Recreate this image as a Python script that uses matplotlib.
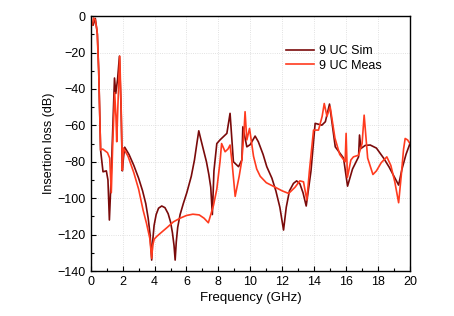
import matplotlib.pyplot as plt
from matplotlib.ticker import MultipleLocator

plt.rcParams["font.family"] = ["Liberation Sans", "DejaVu Sans"]

# 9 UC simulation, (GHz, dB)
sim_freq = [0, 0.15, 0.29, 0.42, 0.5, 0.62, 0.77, 0.98, 1.08, 1.17, 1.25, 1.35,
            1.49, 1.57, 1.68, 1.8, 1.9, 1.98, 2.05, 2.13, 2.4, 2.7, 3.0, 3.25,
            3.45, 3.6, 3.72, 3.82, 3.88, 3.97, 4.1, 4.25, 4.45, 4.65, 4.85, 5.0,
            5.12, 5.22, 5.29, 5.36, 5.45, 5.6, 5.8, 6.02, 6.3, 6.5, 6.65, 6.77,
            6.88, 7.05, 7.25, 7.4, 7.52, 7.62, 7.72, 7.9, 8.1, 8.53, 8.73, 8.94,
            9.26, 9.47, 9.53, 9.78, 9.99, 10.3, 10.5, 10.8, 11.03, 11.35, 11.6,
            11.85, 12.08, 12.25, 12.45, 12.7, 12.9, 13.1, 13.3, 13.5, 13.8, 14.06,
            14.48, 14.7, 14.96, 15.32, 15.84, 16.09, 16.4, 16.78, 16.84, 16.93,
            17.2, 17.51, 17.9, 18.35, 18.7, 19.0, 19.29, 19.5, 19.75, 20]
sim_loss = [-3, -5, -1.3, -10, -30, -73.6, -85.5, -85, -90, -112, -95, -70,
            -34, -42.5, -35, -22, -50, -85, -78, -72, -76, -82, -89, -96,
            -103, -111, -120, -134, -124, -115, -109, -105.5, -104.3, -105.2, -108.5, -113,
            -119, -126, -134, -124, -116, -109, -103, -97, -88, -79, -70, -63,
            -67, -73, -80, -87, -94, -109, -85, -70, -68, -64.4, -53.4, -80,
            -82.7, -79, -60.8, -71.8, -70.6, -65.9, -69, -76, -82.7, -89, -96,
            -105, -117.5, -105, -96, -91.9, -90.5, -92, -97, -104.3, -85, -58.9,
            -59.9, -58, -48.3, -71.8, -78, -93.4, -84, -77.3, -65.3, -72.7,
            -71, -70.8, -72.5, -78, -83, -88, -92.8, -84, -76, -70]

# 9 UC measurement
meas_freq = [0, 0.1, 0.18, 0.28, 0.4, 0.5, 0.62, 0.75, 0.9, 1.05, 1.19, 1.29,
             1.38, 1.5, 1.58, 1.63, 1.7, 1.82, 1.92, 1.98, 2.05, 2.34, 2.7, 3.0,
             3.28, 3.5, 3.7, 3.82, 3.88, 3.98, 4.14, 4.4, 4.8, 5.18, 5.6, 6.0,
             6.4, 6.8, 7.1, 7.37, 7.69, 7.9, 8.1, 8.2, 8.42, 8.6, 8.73, 8.85,
             9.05, 9.3, 9.47, 9.6, 9.67, 9.78, 9.95, 10.2, 10.4, 10.62, 11.0,
             11.45, 12.0, 12.4, 12.8, 13.1, 13.33, 13.54, 13.7, 13.96, 14.27, 14.5,
             14.63, 14.8, 15.0, 15.3, 15.6, 15.94, 16.0, 16.08, 16.3, 16.46, 16.78,
             17.0, 17.13, 17.35, 17.68, 17.9, 18.2, 18.55, 18.8, 19.05, 19.29,
             19.45, 19.6, 19.7, 19.85, 20]
meas_loss = [-3, -5, -1, -2, -8, -30, -73.6, -73, -74, -75, -78, -97,
             -70, -42, -55, -69, -50, -22, -55, -84.6, -72.5, -77, -86, -95,
             -106.5, -114, -122, -133, -126, -122.5, -121, -119, -116, -113, -111, -109.5,
             -108.8, -109.2, -111, -113.5, -104, -95, -80, -70, -74.5, -73, -70.8, -80,
             -99, -88, -79, -64, -52.5, -68, -61.7, -77, -84, -88, -91.5,
             -93.5, -96, -97.4, -94, -90.5, -91, -101, -85, -62.6, -62.6, -55,
             -48, -55, -49.8, -67, -76, -80, -64.4, -88.6, -79, -77.3, -76.4,
             -70, -54.4, -78, -87, -85, -80.5, -77.3, -82, -91, -102.5,
             -88, -73, -67.2, -68, -70]

fig = plt.figure(figsize=(4.54, 3.16), dpi=100)
ax = fig.add_axes([0.1998, 0.1424, 0.7032, 0.8066])

ax.plot(sim_freq, sim_loss, color="#7a0a0a", lw=1.2, label="9 UC Sim")
ax.plot(meas_freq, meas_loss, color="#ff3b1f", lw=1.2, label="9 UC Meas")

ax.set_xlim(0, 20)
ax.set_ylim(-140, 0)
ax.xaxis.set_major_locator(MultipleLocator(2))
ax.xaxis.set_minor_locator(MultipleLocator(1))
ax.yaxis.set_major_locator(MultipleLocator(20))
ax.yaxis.set_minor_locator(MultipleLocator(10))
ax.tick_params(which="both", direction="in", labelsize=9, width=0.8)
ax.tick_params(which="major", length=3.5)
ax.tick_params(which="minor", length=2)
ax.grid(True, which="major", color="#d8d8d8", linestyle=":", linewidth=0.6)
for sp in ax.spines.values():
    sp.set_linewidth(1.0)

ax.set_xlabel("Frequency (GHz)", fontsize=9.5, labelpad=3)
ax.set_ylabel("Insertion loss (dB)", fontsize=9, labelpad=2)

ax.legend(loc="upper left", bbox_to_anchor=(0.575, 0.93), frameon=False,
          fontsize=9, handlelength=2.3, handletextpad=0.4, labelspacing=0.2)

fig.savefig("out.png", dpi=100)
